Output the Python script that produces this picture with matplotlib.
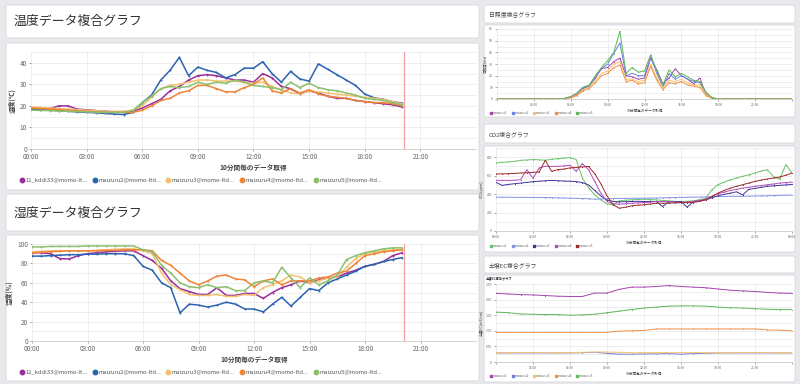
import numpy as np
import matplotlib
matplotlib.use("Agg")
import matplotlib.pyplot as plt
from matplotlib.patches import FancyBboxPatch
from matplotlib.lines import Line2D
from matplotlib.ticker import MultipleLocator

plt.rcParams['font.family'] = ['Noto Sans CJK JP', 'DejaVu Sans']

W, H = 800, 384

# ---- data -------------------------------------------------------------
# 30 min samples, 00:00 - 20:00
t_day = np.arange(0, 20.5, 0.5)
# 30 min samples, 00:00 - 24:00
t_full = np.arange(0, 24.5, 0.5)
# hourly samples, 00:00 - 24:00
t_hour = np.arange(0, 25, 1)
NOW_HOUR = 20.1

temp_names = ["11_kddi33@momo-lt...", "maizuru2@momo-ltd...", "maizuru3@momo-ltd...",
              "maizuru4@momo-ltd...", "maizuru5@momo-ltd..."]
temp_kddi33 = [19, 18.8, 18.7, 20, 20, 18.5, 18.2, 17.8, 17.5, 17.2,
               17, 17.5, 19, 21, 23, 27, 29, 32, 34, 34.5,
               34, 33, 32, 32, 31, 35, 33, 29, 28, 25.5,
               27, 26, 24.5, 23.5, 23.5, 22.5, 22, 21.5, 21, 20.5, 19.5]
temp_m2 = [18.5, 18.3, 18, 17.8, 17.5, 17.2, 17, 16.8, 16.5, 16.2,
           16, 17, 21.5, 25, 32, 36.5, 42.5, 34, 38, 36.5,
           35.5, 33, 34.5, 37.5, 37.5, 40.5, 35, 31, 36, 32.5,
           31.5, 39.5, 37, 34.5, 32, 29.5, 25.5, 23.8, 23, 22, 21.3]
temp_m3 = [19.5, 19.3, 19, 18.8, 18.5, 18.3, 18, 17.8, 17.5, 17.5,
           17.5, 18, 20, 24, 28, 29.5, 30, 31, 32, 32,
           31.5, 31.5, 31.5, 31, 30.5, 31, 29, 27.5, 26, 25.5,
           27, 26.5, 26, 25.5, 25, 24.5, 24, 23.5, 23, 22, 21]
temp_m4 = [19, 18.8, 18.5, 18.3, 18, 17.8, 17.5, 17.3, 17, 17,
           17, 17, 18, 20, 22.5, 23.5, 26, 27, 29.5, 29.5,
           28, 26.5, 26.5, 28.5, 30, 33, 27, 26, 28, 26,
           27.5, 25.5, 24.5, 24, 23.5, 22.5, 22, 21.5, 21.5, 21, 20]
temp_m5 = [18, 17.9, 17.8, 17.6, 17.5, 17.4, 17.2, 17.1, 17, 17,
           17, 18, 21.5, 24.5, 28, 29, 28.5, 29, 31, 30,
           31, 30.5, 32, 31, 29.5, 29, 28.5, 27.5, 31, 28.5,
           30.5, 28.5, 27.5, 27, 26, 25, 23.5, 23, 22.5, 21.5, 20.5]

hum_names = ["12_kddi33@momo-lt...", "maizuru2@momo-ltd...", "maizuru3@momo-ltd...",
             "maizuru4@momo-ltd...", "maizuru5@momo-ltd..."]
hum_kddi33 = [91, 91, 90, 85, 84.5, 88, 90, 91, 92, 92.5,
              93, 93, 88, 83, 75, 62, 54, 51, 48, 48,
              55, 47, 47, 49, 49, 44, 50, 55, 58, 62,
              60, 63, 65, 66, 70, 73, 77, 79, 82, 88, 91]
hum_m2 = [87.5, 87.5, 88, 88.5, 89, 89, 89.5, 89.5, 90, 90,
          90, 88, 77, 73, 60, 55, 29, 38, 37, 35,
          37, 40, 38, 33, 33, 30, 38, 45, 36, 45,
          54, 52, 60, 64, 68, 72, 77, 79, 82, 84, 86]
hum_m3 = [92, 92.5, 93, 93, 93, 93, 93, 93.5, 94, 94.5,
          95, 95, 93, 90, 70, 58, 53, 48, 47, 47,
          48, 46, 46, 48, 47, 55, 58, 62, 68, 66,
          60, 62, 65, 66, 76, 85, 90, 92, 93, 94, 94]
hum_m4 = [91, 91.5, 92, 92.5, 93, 93, 93, 93, 93.5, 93.5,
          94, 94, 94, 93, 83, 78, 70, 62, 58, 62,
          67, 68, 64, 63, 56, 62, 64, 58, 62, 62,
          62, 65, 66, 70, 72, 80, 88, 90, 92, 93, 94]
hum_m5 = [97, 97, 97.5, 97.5, 97.5, 97.5, 98, 98, 98, 98,
          98, 98, 94, 92, 78, 70, 60, 56, 55, 58,
          55, 56, 52, 52, 60, 62, 60, 76, 65, 55,
          65, 58, 62, 68, 84, 88, 91, 93, 95, 96, 96]

small_names = ["maizuru1", "maizuru2", "maizuru3", "maizuru4", "maizuru5"]
# sunlight: zero at night (00:00-05:00 and 18:00-24:00)
sun_m1 = [0] * 11 + [0.5, 1.5, 4, 9, 11, 18, 26, 27, 32, 35, 20, 19, 17, 18, 35, 25, 13,
                     18, 26, 20, 17, 13, 18, 4, 1] + [0] * 13
sun_m2 = [0] * 11 + [0.5, 2, 5, 10, 11, 19, 26, 30, 39, 48, 20, 22, 20, 20, 36, 22, 10,
                     22, 17, 20, 17, 15, 14, 5, 1] + [0] * 13
sun_m3 = [0] * 11 + [0.4, 1.2, 3.5, 8, 10, 16, 22, 24, 30, 32, 17, 17, 15, 16, 30, 18, 10,
                     16, 15, 17, 14, 12, 12, 4, 0.8] + [0] * 13
sun_m4 = [0] * 11 + [0.3, 1, 3, 7, 9, 14, 20, 22, 27, 29, 15, 16, 13, 14, 28, 16, 8,
                     14, 13, 15, 12, 11, 10, 3, 0.5] + [0] * 13
sun_m5 = [0] * 11 + [0.5, 2, 5, 10, 12, 20, 27, 33, 40, 58, 22, 27, 23, 24, 38, 24, 12,
                     25, 19, 22, 19, 16, 15, 6, 1] + [0] * 13

co2_m1 = [738, 745, 749, 755, 767, 770, 775, 772, 767, 778,
          785, 790, 796, 775, 575, 470, 393, 338, 295, 284,
          327, 335, 338, 342, 345, 340, 338, 332, 327, 322,
          320, 322, 327, 340, 356, 447, 502, 530, 556, 575,
          593, 610, 629, 650, 665, 590, 560, 720, 630]
co2_m2 = [367, 367, 366, 366, 365, 365, 364, 364, 363, 362,
          360, 358, 356, 354, 352, 350, 345, 347, 350, 352,
          353, 354, 355, 355, 356, 357, 358, 360, 362, 363,
          365, 366, 367, 368, 370, 372, 375, 375, 376, 376,
          377, 378, 380, 381, 382, 384, 386, 388, 389]
co2_m3 = [527, 495, 505, 513, 520, 527, 535, 540, 545, 549,
          545, 542, 540, 535, 525, 500, 440, 380, 335, 322,
          316, 318, 320, 322, 320, 320, 320, 265, 316, 318,
          320, 258, 320, 328, 338, 360, 382, 398, 411, 425,
          392, 452, 462, 473, 484, 490, 495, 500, 505]
co2_m4 = [549, 549, 549, 550, 556, 665, 571, 684, 702, 700,
          702, 705, 713, 647, 731, 665, 538, 411, 320, 295,
          291, 295, 302, 305, 309, 312, 320, 320, 320, 315,
          309, 315, 320, 330, 345, 375, 404, 422, 440, 452,
          465, 475, 484, 493, 502, 510, 520, 525, 531]
co2_m5 = [618, 620, 622, 625, 629, 632, 636, 640, 767, 647,
          665, 672, 684, 690, 695, 700, 622, 513, 382, 284,
          247, 258, 273, 280, 284, 292, 302, 302, 302, 305,
          309, 309, 309, 322, 338, 375, 411, 440, 465, 485,
          502, 520, 538, 552, 564, 575, 585, 605, 629]

ec_m1 = [2.2, 2.18, 2.16, 2.15, 2.13, 2.11, 2.1, 2.1, 2.21, 2.21, 2.33, 2.4, 2.4,
         2.42, 2.45, 2.42, 2.4, 2.38, 2.34, 2.3, 2.28, 2.26, 2.23, 2.21, 2.2]
ec_m2 = [0.29, 0.29, 0.29, 0.29, 0.29, 0.29, 0.29, 0.3, 0.31, 0.28, 0.25, 0.25, 0.26,
         0.26, 0.27, 0.25, 0.27, 0.28, 0.29, 0.29, 0.29, 0.29, 0.29, 0.29, 0.29]
ec_m3 = [0.3, 0.3, 0.3, 0.3, 0.3, 0.3, 0.3, 0.31, 0.32, 0.32, 0.31, 0.3, 0.3,
         0.3, 0.3, 0.3, 0.3, 0.3, 0.3, 0.3, 0.3, 0.3, 0.3, 0.3, 0.3]
ec_m4 = [0.95, 0.95, 0.95, 0.95, 0.95, 0.95, 0.95, 0.95, 0.95, 0.95, 0.99, 1.0, 1.01,
         1.06, 1.06, 1.06, 1.06, 1.06, 1.06, 1.06, 1.06, 1.06, 1.03, 1.02, 1.0]
ec_m5 = [1.6, 1.58, 1.54, 1.53, 1.52, 1.52, 1.5, 1.51, 1.53, 1.58, 1.63, 1.68, 1.73,
         1.76, 1.79, 1.8, 1.8, 1.79, 1.76, 1.74, 1.73, 1.71, 1.69, 1.68, 1.68]

big_colors = ["#9a2d9e", "#2a63b0", "#f2c26e", "#ee8438", "#8cbf6e"]
small_colors = ["#a544b0", "#6b80dc", "#f6c36c", "#f28f45", "#5cb65c"]
co2_colors = ["#66c266", "#8493e6", "#43349c", "#b24cbd", "#9c2a2a"]

# ---- layout helpers ---------------------------------------------------
fig = plt.figure(figsize=(W / 100, H / 100), dpi=100, facecolor="#e9e9ed")
bg = fig.add_axes([0, 0, 1, 1])
bg.set_xlim(0, W); bg.set_ylim(H, 0); bg.axis("off")


def card(x0, y0, x1, y1):
    bg.add_patch(FancyBboxPatch((x0, y0), x1 - x0, y1 - y0,
                                boxstyle="round,pad=0,rounding_size=2",
                                fc="white", ec="#d6d6dc", lw=0.6))


def add_ax(l, t, r, b):
    return fig.add_axes([l / W, 1 - b / H, (r - l) / W, (b - t) / H])


def hhmm(h):
    return f"{int(h) % 24:02d}:00"


def style_ax(ax, fs, xt, xlab_ticks):
    for s in ["top", "right", "left"]:
        ax.spines[s].set_visible(False)
    ax.spines["bottom"].set_color("#cccccc")
    ax.spines["bottom"].set_linewidth(0.6)
    ax.set_xlim(0, 24)
    ax.set_xticks(xt)
    ax.set_xticklabels([hhmm(h) if h in xlab_ticks else "" for h in xt])
    ax.tick_params(labelsize=fs, colors="#666666", length=1.5, width=0.4, pad=1.5)
    ax.grid(True, which="both", color="#e8e8e8", lw=0.5)
    ax.set_axisbelow(True)
    ax.patch.set_alpha(0)


def big_chart(ax, t, series, names, ymax, major, minor, ylab, leg_y):
    for vals, c in zip(series, big_colors):
        ax.plot(t, vals, color=c, lw=1.1, marker="o", ms=1.4, mew=0)
    ax.axvline(NOW_HOUR, color="#f2a0a0", lw=0.9)
    ax.set_ylim(0, ymax)
    ax.yaxis.set_major_locator(MultipleLocator(major))
    ax.yaxis.set_minor_locator(MultipleLocator(minor))
    ax.tick_params(which="minor", length=0)
    style_ax(ax, 4.6, list(range(0, 24, 3)), list(range(0, 24, 3)))
    ax.set_xlabel("10分間毎のデータ取得", fontsize=4.8, fontweight="bold",
                  color="#444444", labelpad=2)
    ax.set_ylabel(ylab, fontsize=4.8, fontweight="bold", color="#444444", labelpad=3)
    handles = [Line2D([], [], ls="none", marker="o", ms=3.2, color=c) for c in big_colors]
    ax.legend(handles, names, loc="center left", bbox_to_anchor=(20 / W, 1 - leg_y / H),
              bbox_transform=fig.transFigure, ncol=5, frameon=False, fontsize=4.2,
              handletextpad=0.3, columnspacing=0.95, handlelength=0.6,
              borderpad=0, borderaxespad=0, labelcolor="#555555")


def small_chart(ax, t, series, colors, ymax, ticks, tick_labels, ylab, xt_labels, leg_y):
    for vals, c in zip(series, colors):
        ax.plot(t, vals, color=c, lw=0.7, marker="o", ms=0.7, mew=0)
    ax.set_ylim(0, ymax)
    ax.set_yticks(ticks)
    ax.set_yticklabels(tick_labels)
    ax.yaxis.set_minor_locator(MultipleLocator(ticks[1] / 2))
    ax.tick_params(which="minor", length=0)
    style_ax(ax, 2.4, list(range(0, 25, 3)), xt_labels)
    ax.set_xlabel("10分間毎のデータ取得", fontsize=2.6, color="#444444", labelpad=1)
    ax.set_ylabel(ylab, fontsize=2.6, color="#444444", labelpad=2)
    handles = [Line2D([], [], ls="none", marker="s", ms=1.6, color=c) for c in colors]
    ax.legend(handles, small_names, loc="center left",
              bbox_to_anchor=(490 / W, 1 - leg_y / H), bbox_transform=fig.transFigure,
              ncol=5, frameon=False, fontsize=2.4, handletextpad=0.1,
              columnspacing=1.2, handlelength=0.8, borderpad=0, borderaxespad=0,
              labelcolor="#666666")


# ---- left column ------------------------------------------------------
card(6, 5, 479, 38)
card(6, 43, 479, 190)
card(6, 194, 479, 231)
card(6, 235, 479, 381)
fig.text(14 / W, 1 - 21 / H, "温度データ複合グラフ", fontsize=9.3, va="center", color="#333333")
fig.text(14 / W, 1 - 213 / H, "湿度データ複合グラフ", fontsize=9.3, va="center", color="#333333")

ax_t = add_ax(31, 52, 476, 149)
big_chart(ax_t, t_day, [temp_kddi33, temp_m2, temp_m3, temp_m4, temp_m5], temp_names,
          45, 10, 5, "温度(℃)", 180)

ax_h = add_ax(32, 244, 476, 341)
big_chart(ax_h, t_day, [hum_kddi33, hum_m2, hum_m3, hum_m4, hum_m5], hum_names,
          100, 20, 10, "湿度(%)", 372)

# ---- right column -----------------------------------------------------
card(484, 5, 795, 23)
card(484, 25, 795, 117)
card(484, 124, 795, 143)
card(484, 146, 795, 252)
card(484, 256, 795, 273)
card(484, 275, 795, 382)
fig.text(489 / W, 1 - 14 / H, "日照度複合グラフ", fontsize=4.2, va="center", color="#444444")
fig.text(489 / W, 1 - 134 / H, "CO2複合グラフ", fontsize=4.2, va="center", color="#444444")
fig.text(489 / W, 1 - 265 / H, "土壌EC複合グラフ", fontsize=4.2, va="center", color="#444444")
fig.text(486 / W, 1 - 278 / H, "土壌EC複合グラフ", fontsize=2.3, fontweight="bold",
         va="center", color="#222222")

ax_s = add_ax(497, 29, 792, 99)
small_chart(ax_s, t_full, [sun_m1, sun_m2, sun_m3, sun_m4, sun_m5], small_colors, 60,
            [0, 10, 20, 30, 40, 50, 60], ["0", "10", "20", "30", "40", "50", "60"],
            "日照度(klx)", list(range(3, 22, 3)), 113)

ax_c = add_ax(496, 148, 792, 231)
small_chart(ax_c, t_full, [co2_m1, co2_m2, co2_m3, co2_m4, co2_m5], co2_colors, 900,
            [0, 200, 400, 600, 800], ["0", "200", "400", "600", "800"],
            "CO2(ppm)", list(range(0, 25, 3)), 246)

ax_e = add_ax(496, 284, 792, 362)
small_chart(ax_e, t_hour, [ec_m1, ec_m2, ec_m3, ec_m4, ec_m5], small_colors, 2.5,
            [0, 0.5, 1.0, 1.5, 2.0, 2.5], ["0", "0.50", "1.00", "1.50", "2.00", "2.50"],
            "土壌EC(mS/cm)", list(range(3, 22, 3)), 376)

fig.savefig("out.png", dpi=100, facecolor=fig.get_facecolor())
